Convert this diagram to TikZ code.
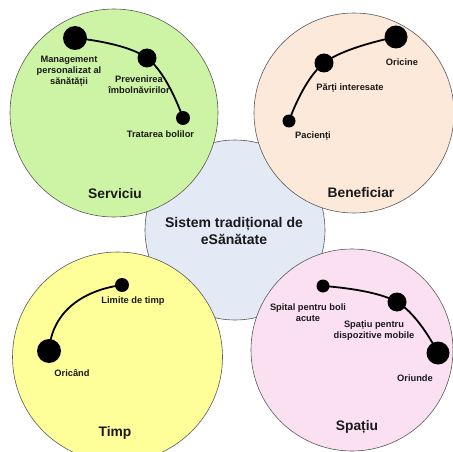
\documentclass[tikz,border=0pt]{standalone}
\usepackage{fontspec}
\setmainfont{Liberation Sans}
\definecolor{cgreen}{HTML}{CDF4A4}
\definecolor{cpeach}{HTML}{FDE9D9}
\definecolor{cyellow}{HTML}{FFFF99}
\definecolor{cpink}{HTML}{FBE0F2}
\definecolor{cblue}{HTML}{E3E9F5}
\definecolor{ink}{HTML}{1A1A1A}
\pgfdeclarelayer{back}
\pgfdeclarelayer{mid}
\pgfsetlayers{back,mid,main}
\begin{document}
\begin{tikzpicture}[x=1pt,y=-1pt,
  zone/.style={circle, draw=black!65, line width=0.6pt, inner sep=0pt, minimum size=#1},
  dot/.style={circle, fill=black, inner sep=0pt, minimum size=#1},
  link/.style={line width=1.8pt, black, line cap=round},
  small/.style={font=\bfseries\fontsize{9.3}{11}\selectfont, text=ink, align=center, inner sep=0pt},
  big/.style={font=\bfseries\fontsize{13.8}{17}\selectfont, text=ink, align=center, inner sep=0pt},
  core/.style={font=\bfseries\fontsize{14}{17}\selectfont, text=ink, align=center, inner sep=0pt}]
\useasboundingbox (0,0) rectangle (453,452);
\begin{pgfonlayer}{back}
\node[zone=180pt, fill=cblue] (core) at (235,230) {};
\node[zone=208pt, fill=cgreen] (serv) at (114,113) {};
\node[zone=200pt, fill=cpeach] (bene) at (354,113) {};
\node[zone=210pt, fill=cyellow] (timp) at (117.5,357) {};
\node[zone=202pt, fill=cpink] (spat) at (352,350) {};
\end{pgfonlayer}
\node[core] (coret) at (234,230.5) {Sistem tradițional de\\eSănătate};
% Serviciu
\node[big] (servt) at (115,194) {Serviciu};
\node[dot=24pt] (g1) at (75,38) {};
\node[dot=19pt] (g2) at (147,58) {};
\node[dot=14pt] (g3) at (183,118) {};
\node[small] (g1t) at (69,71) {Management\\personalizat al\\sănătății};
\node[small] (g2t) at (139,84.5) {Prevenirea\\îmbolnăvirilor};
\node[small] (g3t) at (160.5,134) {Tratarea bolilor};
% Beneficiar
\node[big] (benet) at (361,193) {Beneficiar};
\node[dot=23pt] (b1) at (396,37) {};
\node[dot=19pt] (b2) at (324,63) {};
\node[dot=13pt] (b3) at (289,121) {};
\node[small] (b1t) at (402,62) {Oricine};
\node[small] (b2t) at (350,88) {Părți interesate};
\node[small] (b3t) at (313,136) {Pacienți};
% Timp
\node[big] (timpt) at (115,433) {Timp};
\node[dot=14pt] (t1) at (122,285) {};
\node[dot=24pt] (t2) at (49,351) {};
\node[small] (t1t) at (133,301) {Limite de timp};
\node[small] (t2t) at (72,373) {Oricând};
% Spatiu
\node[big] (spatt) at (357,427) {Spațiu};
\node[dot=13pt] (s1) at (323,286) {};
\node[dot=19pt] (s2) at (397,302) {};
\node[dot=23pt] (s3) at (438,353) {};
\node[small] (s1t) at (308,312.5) {Spital pentru boli\\acute};
\node[small] (s2t) at (374,330.5) {Spațiu pentru\\dispozitive mobile};
\node[small] (s3t) at (415,378) {Oriunde};
\begin{pgfonlayer}{mid}
\draw[link] plot[smooth, tension=0.7] coordinates {(g1.center) (g2.center) (g3.center)};
\draw[link] plot[smooth, tension=0.7] coordinates {(b3.center) (b2.center) (b1.center)};
\draw[link] (t2.center) .. controls (52,310) and (85,290) .. (t1.center);
\draw[link] plot[smooth, tension=0.7] coordinates {(s1.center) (s2.center) (s3.center)};
\end{pgfonlayer}
\end{tikzpicture}
\end{document}
